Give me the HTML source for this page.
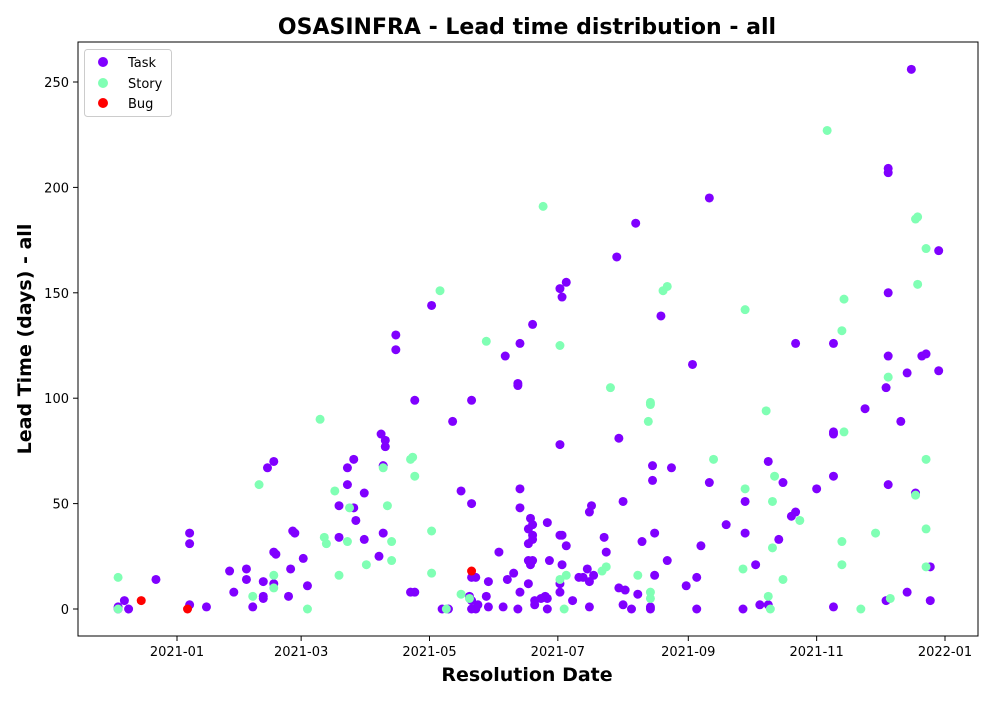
<!DOCTYPE html>
<html><head><meta charset="utf-8"><style>
body{margin:0;background:#fff;width:1000px;height:700px;overflow:hidden;font-family:"DejaVu Sans","Liberation Sans",sans-serif}
</style></head><body>
<svg id="chart" width="1000" height="700" xmlns="http://www.w3.org/2000/svg" font-family="DejaVu Sans, Liberation Sans, sans-serif">
<rect width="1000" height="700" fill="#fff"/>
<text x="527" y="34" text-anchor="middle" font-size="22" font-weight="bold">OSASINFRA - Lead time distribution - all</text>
<g id="marks"></g>
<rect x="78" y="42" width="900" height="594" fill="none" stroke="#000" stroke-width="1"/>
<g id="axes"></g>
<text x="527" y="681" text-anchor="middle" font-size="19" font-weight="bold">Resolution Date</text>
<text transform="translate(31,339) rotate(-90)" text-anchor="middle" font-size="19" font-weight="bold">Lead Time (days) - all</text>
<g>
<rect x="84.5" y="49.5" width="87" height="67" rx="3" fill="#fff" stroke="#ccc"/>
<circle cx="103" cy="62" r="5" fill="#8000ff"/>
<text x="128" y="67" font-size="13">Task</text>
<circle cx="103" cy="83" r="5" fill="#80ffb4"/>
<text x="128" y="88" font-size="13">Story</text>
<circle cx="103" cy="103" r="5" fill="#ff0000"/>
<text x="128" y="108" font-size="13">Bug</text>
</g>
</svg>
<script>
// days since 2021-01-01, lead time in days
const taskDays=[-28,-28,-25,-23,-10,6,6,6,14,25,27,33,33,36,41,41,41,43,46,46,47,46,53,54,55,56,60,62,77,77,81,81,84,84,85,89,89,96,97,98,98,99,99,104,104,111,113,113,121,126,129,131,135,139,140,140,140,140,140,142,142,143,147,148,148,153,156,157,155,160,162,163,163,162,162,163,163,167,167,167,167,168,168,169,169,169,169,169,170,170,173,175,176,176,177,176,182,183,182,182,183,185,185,183,182,182,188,191,193,195,196,196,197,198,196,203,204,209,210,210,212,212,213,216,218,219,221,225,225,226,226,227,227,230,233,235,242,245,247,247,249,253,253,261,269,270,270,275,277,281,281,286,288,292,294,294,304,312,312,312,312,312,327,337,337,338,338,338,338,338,344,347,347,349,351,354,356,358,358,362,362];
const taskVals=[0,1,4,0,14,36,31,2,1,18,8,19,14,1,13,6,5,67,70,27,26,12,6,19,37,36,24,11,49,34,67,59,71,48,42,33,55,25,83,36,68,80,77,130,123,8,8,99,144,0,0,89,56,6,4,0,99,50,15,15,0,2,6,13,1,27,120,14,1,17,0,8,126,107,106,57,48,12,31,38,23,21,43,40,35,33,135,23,4,2,5,6,41,0,23,5,152,148,78,35,35,155,30,21,12,8,4,15,15,19,46,13,49,16,1,34,27,167,10,81,51,2,9,0,183,7,32,1,0,68,61,16,36,139,23,67,11,116,0,15,30,195,60,40,0,51,36,21,2,2,70,33,60,44,46,126,57,83,84,1,126,63,95,4,105,120,150,209,207,59,89,8,112,256,55,120,121,20,4,170,113];
const storyDays=[-28,-28,39,36,46,46,62,68,70,71,75,77,81,82,90,98,100,102,102,111,112,113,121,121,125,128,135,139,147,174,182,182,184,185,202,204,206,219,224,225,225,225,225,231,233,255,269,270,270,280,281,282,283,283,284,288,296,309,316,316,316,317,317,325,332,338,339,351,352,352,351,356,356,356,356];
const storyVals=[15,0,59,6,16,10,0,90,34,31,56,16,32,48,21,67,49,32,23,71,72,63,37,17,151,0,7,5,127,191,125,14,0,16,18,20,105,16,89,98,97,8,5,151,153,71,19,142,57,94,6,0,29,51,63,14,42,227,21,32,132,147,84,0,36,110,5,185,186,154,54,171,71,38,20];
const bugDays=[-17,5,140];
const bugVals=[4,0,18];
const xTickDays=[0,59,120,181,243,304,365];
const xTickLabels=["2021-01","2021-03","2021-05","2021-07","2021-09","2021-11","2022-01"];
const yTicks=[0,50,100,150,200,250];

const NS="http://www.w3.org/2000/svg";
const xs=d=>177+d*(768/365);
const ys=v=>609-v*(527/250);
const marks=document.getElementById('marks');
const axes=document.getElementById('axes');
function series(days,vals,color,name){
  const n=Math.min(days.length,vals.length);
  for(let i=0;i<n;i++){
    const c=document.createElementNS(NS,'circle');
    c.setAttribute('cx',xs(days[i]));c.setAttribute('cy',ys(vals[i]));
    c.setAttribute('r',4.5);c.setAttribute('fill',color);
    
    
    marks.appendChild(c);
  }
}
series(taskDays,taskVals,'#8000ff','task');
series(storyDays,storyVals,'#80ffb4','story');
series(bugDays,bugVals,'#ff0000','bug');
xTickDays.forEach((d,i)=>{
  const x=xs(d);
  const l=document.createElementNS(NS,'line');
  l.setAttribute('x1',x);l.setAttribute('x2',x);l.setAttribute('y1',636);l.setAttribute('y2',641);l.setAttribute('stroke','#000');
  
  
  axes.appendChild(l);
  const t=document.createElementNS(NS,'text');
  t.setAttribute('x',x);t.setAttribute('y',656);t.setAttribute('text-anchor','middle');t.setAttribute('font-size','13');
  t.textContent=xTickLabels[i];
  
  
  axes.appendChild(t);
});
yTicks.forEach(v=>{
  const y=ys(v);
  const l=document.createElementNS(NS,'line');
  l.setAttribute('x1',73);l.setAttribute('x2',78);l.setAttribute('y1',y);l.setAttribute('y2',y);l.setAttribute('stroke','#000');
  
  
  axes.appendChild(l);
  const t=document.createElementNS(NS,'text');
  t.setAttribute('x',69);t.setAttribute('y',y+5);t.setAttribute('text-anchor','end');t.setAttribute('font-size','13');
  t.textContent=v;
  
  
  axes.appendChild(t);
});
</script>
</body></html>
